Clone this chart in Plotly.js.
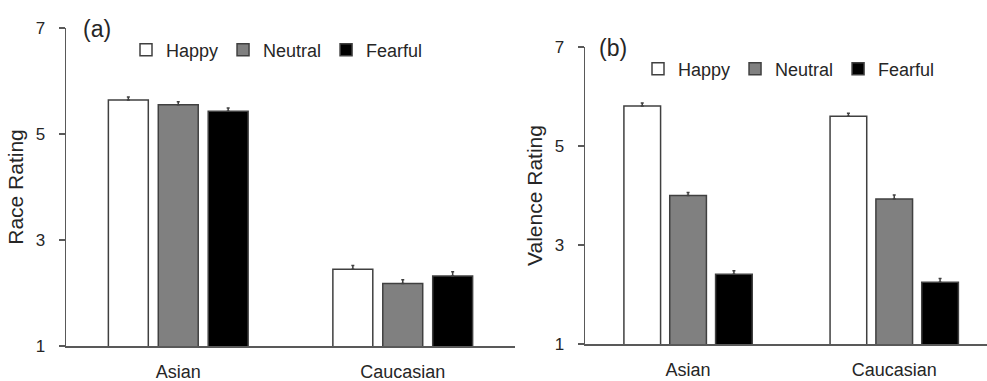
<!DOCTYPE html>
<html>
<head>
<meta charset="utf-8">
<script src="https://cdn.plot.ly/plotly-3.0.1.min.js"></script>
<style>html,body{margin:0;padding:0;background:#fff;}#chart{width:987px;height:381px;}</style>
</head>
<body>
<div id="chart"></div>
<script>
// ---- data ----
const categories = ['Asian', 'Caucasian'];
const seriesNames = ['Happy', 'Neutral', 'Fearful'];

const raceHappy = [5.64, 2.45];
const raceNeutral = [5.55, 2.18];
const raceFearful = [5.43, 2.32];
const raceHappyErr = [0.06, 0.07];
const raceNeutralErr = [0.06, 0.07];
const raceFearfulErr = [0.06, 0.08];

const valHappy = [5.81, 5.60];
const valNeutral = [4.00, 3.93];
const valFearful = [2.41, 2.25];
const valHappyErr = [0.06, 0.06];
const valNeutralErr = [0.06, 0.08];
const valFearfulErr = [0.07, 0.075];

const yTicks = [1, 3, 5, 7];
// ---- styles ----
const fills = ['#ffffff', '#808080', '#000000'];
const edge = '#404040';
const axisCol = '#595959';
const txt = '#262626';
const FONT = 'Liberation Sans, Arial, sans-serif';

function barTrace(name, y, err, i, xa, ya, legend) {
  return {
    type: 'bar', name: name, x: categories, y: y,
    xaxis: xa, yaxis: ya, legend: legend,
    marker: {color: fills[i], line: {color: edge, width: 1.5}},
    error_y: {type: 'data', array: err, symmetric: false,
              arrayminus: err.map(() => 0),
              color: edge, thickness: 1.5, width: 1.5}
  };
}

const data = [
  barTrace(seriesNames[0], raceHappy, raceHappyErr, 0, 'x', 'y', 'legend'),
  barTrace(seriesNames[1], raceNeutral, raceNeutralErr, 1, 'x', 'y', 'legend'),
  barTrace(seriesNames[2], raceFearful, raceFearfulErr, 2, 'x', 'y', 'legend'),
  barTrace(seriesNames[0], valHappy, valHappyErr, 0, 'x2', 'y2', 'legend2'),
  barTrace(seriesNames[1], valNeutral, valNeutralErr, 1, 'x2', 'y2', 'legend2'),
  barTrace(seriesNames[2], valFearful, valFearfulErr, 2, 'x2', 'y2', 'legend2')
];

const W = 987, H = 381;
function yAxis(title, top, bottom, anchor) {
  return {
    anchor: anchor,
    domain: [1 - bottom / H, 1 - top / H],
    range: [1, 7], tickvals: yTicks, ticktext: yTicks.map(String),
    showline: true, linecolor: axisCol, linewidth: 1.5,
    ticks: 'outside', ticklen: 6, tickwidth: 1.5, tickcolor: axisCol,
    ticklabelstandoff: 10,
    showgrid: false, zeroline: false,
    tickfont: {family: FONT, size: 17, color: txt},
    title: {text: title, font: {family: FONT, size: 21, color: txt}, standoff: 6}
  };
}
function xAxis(left, right, range, anchor) {
  return {
    anchor: anchor,
    domain: [left / W, right / W],
    range: range, type: 'category',
    showline: true, linecolor: axisCol, linewidth: 1.5,
    ticks: '', showgrid: false, zeroline: false,
    ticklabelstandoff: 9,
    tickfont: {family: FONT, size: 18, color: txt}
  };
}
const legendBase = {
  orientation: 'h', xanchor: 'left', yanchor: 'middle',
  font: {family: FONT, size: 18, color: txt},
  bgcolor: 'rgba(0,0,0,0)', borderwidth: 0, itemclick: false
};

const layout = {
  width: W, height: H,
  margin: {l: 0, r: 0, t: 0, b: 0},
  paper_bgcolor: '#ffffff', plot_bgcolor: '#ffffff',
  barmode: 'group', bargap: 0.333, bargroupgap: 0.2,
  font: {family: FONT, color: txt},
  showlegend: true,
  xaxis: xAxis(66, 515, [-0.5, 1.5], 'y'),
  yaxis: yAxis('Race Rating', 28, 346, 'x'),
  xaxis2: xAxis(585, 987, [-0.5, 1.45], 'y2'),
  yaxis2: yAxis('Valence Rating', 47, 344, 'x2'),
  legend: Object.assign({}, legendBase, {x: 126 / W, y: 1 - 50 / H}),
  legend2: Object.assign({}, legendBase, {x: 638 / W, y: 1 - 69 / H}),
  annotations: [
    {text: '(a)', xref: 'paper', yref: 'paper', x: 81 / W, y: 1 - 29 / H,
     xanchor: 'left', yanchor: 'middle', showarrow: false,
     font: {family: FONT, size: 23, color: txt}},
    {text: '(b)', xref: 'paper', yref: 'paper', x: 597 / W, y: 1 - 48 / H,
     xanchor: 'left', yanchor: 'middle', showarrow: false,
     font: {family: FONT, size: 23, color: txt}}
  ]
};

Plotly.newPlot('chart', data, layout, {displayModeBar: false, staticPlot: true});
</script>
</body>
</html>
